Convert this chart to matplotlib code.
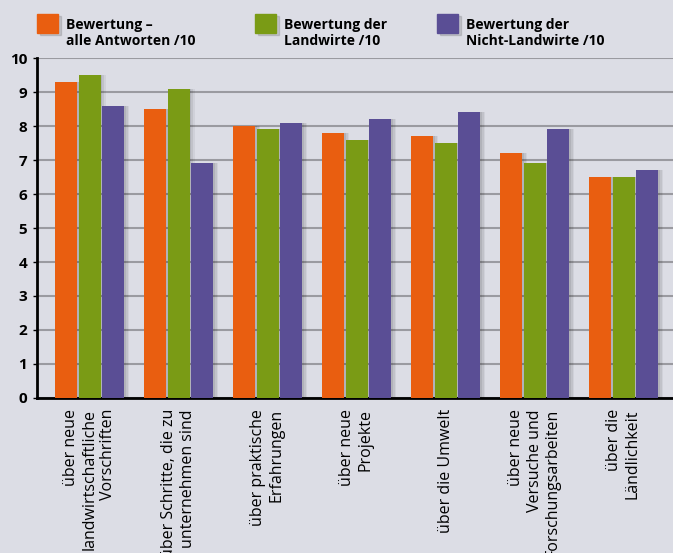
import numpy as np
import matplotlib.pyplot as plt
from matplotlib.patches import Rectangle

plt.rcParams["font.family"] = ["Open Sans", "DejaVu Sans"]

categories = [
    "über neue\nlandwirtschaftliche\nVorschriften",
    "über Schritte, die zu\nunternehmen sind",
    "über praktische\nErfahrungen",
    "über neue\nProjekte",
    "über die Umwelt",
    "über neue\nVersuche und\nForschungsarbeiten",
    "über die\nLändlichkeit",
]
alle = [9.3, 8.5, 8.0, 7.8, 7.7, 7.2, 6.5]
landwirte = [9.5, 9.1, 7.9, 7.6, 7.5, 6.9, 6.5]
nicht_landwirte = [8.6, 6.9, 8.1, 8.2, 8.4, 7.9, 6.7]
series_labels = ["Bewertung –\nalle Antworten /10",
                 "Bewertung der\nLandwirte /10",
                 "Bewertung der\nNicht-Landwirte /10"]

BG = "#dcdde5"
COLORS = ["#e95e10", "#7a9b15", "#5a4e95"]

fig = plt.figure(figsize=(6.73, 5.53), dpi=100, facecolor=BG)
ax = fig.add_axes([0.055, 0.2803, 0.945, 0.6148], facecolor=BG)

x = np.arange(len(categories))
w = 0.247
step = 0.264
for i, (vals, col) in enumerate(zip([alle, landwirte, nicht_landwirte], COLORS)):
    pos = x + (i - 1) * step
    # weiche Schatten
    for dx, a in [(0.06, 0.05), (0.04, 0.07), (0.02, 0.08)]:
        ax.bar(pos + dx, vals, width=w, color="black", alpha=a, zorder=2)
    ax.bar(pos, vals, width=w, color=col, zorder=3)

ax.set_xlim(-0.59, 6.556)
ax.set_ylim(0, 10)
ax.set_yticks(range(0, 11))
ax.yaxis.grid(True, color="#9a9aa0", lw=1.5, zorder=1)
ax.set_axisbelow(True)
for s in ["top", "right"]:
    ax.spines[s].set_visible(False)
ax.spines["left"].set_linewidth(2)
ax.spines["bottom"].set_linewidth(2)
ax.tick_params(axis="y", length=3, width=1, pad=4, labelsize=11)
for lab in ax.get_yticklabels():
    lab.set_fontweight("bold")
ax.set_xticks(x)
ax.set_xticklabels(categories, rotation=90, ha="center", va="top",
                   multialignment="right", fontsize=11.5, linespacing=1.2)
ax.tick_params(axis="x", length=0, pad=8)

# Legende oben
leg_x = [0.055, 0.379, 0.650]
for lx, col, lab in zip(leg_x, COLORS, series_labels):
    fig.patches.append(Rectangle((lx + 0.004, 0.936), 0.031, 0.035, transform=fig.transFigure,
                                 color="black", alpha=0.12, figure=fig))
    fig.patches.append(Rectangle((lx, 0.940), 0.031, 0.035, transform=fig.transFigure,
                                 color=col, figure=fig))
    fig.text(lx + 0.043, 0.968, lab, fontsize=10, fontweight="bold", va="top",
             linespacing=1.2)

fig.savefig("out.png", dpi=100, facecolor=BG)
